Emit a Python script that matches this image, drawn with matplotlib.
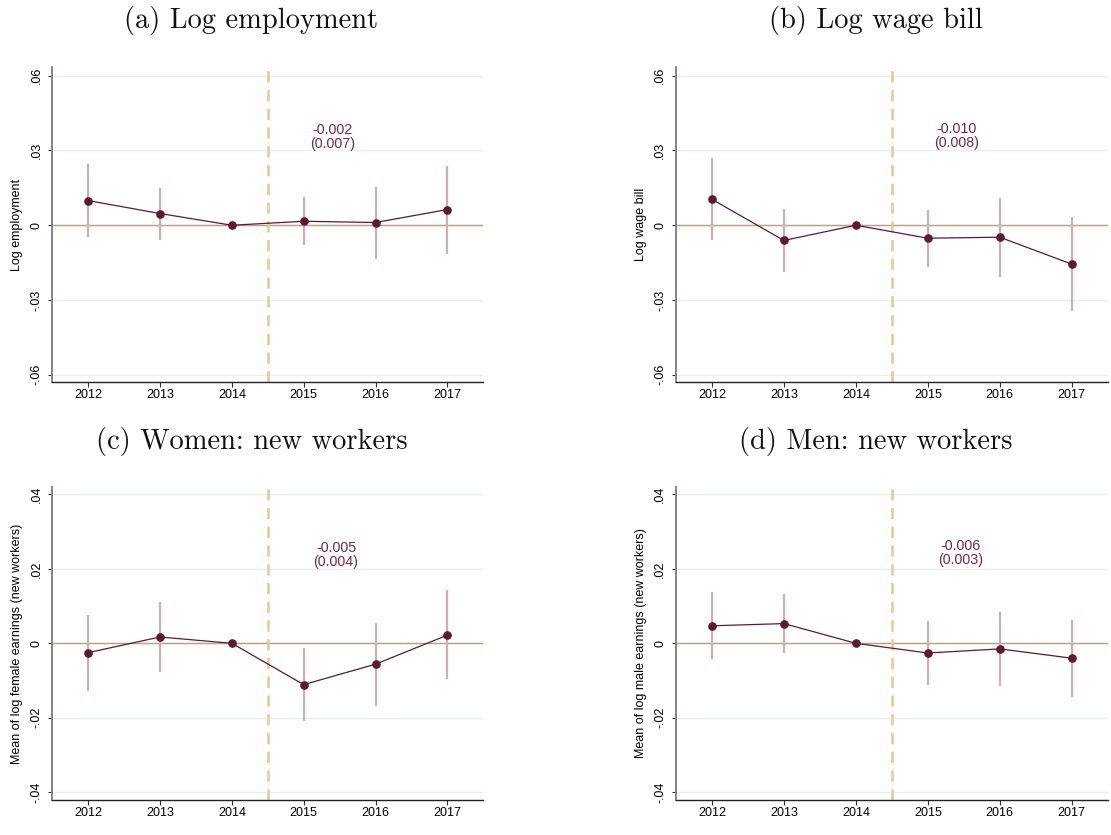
import matplotlib
matplotlib.use("Agg")
import matplotlib.pyplot as plt
import numpy as np

# ---------------- data ----------------
years = [2012, 2013, 2014, 2015, 2016, 2017]

titles = ["(a) Log employment", "(b) Log wage bill",
          "(c) Women: new workers", "(d) Men: new workers"]
ylabels = ["Log employment", "Log wage bill",
           "Mean of log female earnings (new workers)",
           "Mean of log male earnings (new workers)"]

emp_coef = [0.0099, 0.0047, 0.0, 0.0016, 0.0011, 0.0063]
emp_lo = [-0.0047, -0.0059, 0.0, -0.0079, -0.0134, -0.0114]
emp_hi = [0.0245, 0.0150, 0.0, 0.0114, 0.0154, 0.0239]

wb_coef = [0.0104, -0.0061, 0.0, -0.0052, -0.0048, -0.0156]
wb_lo = [-0.0061, -0.0188, 0.0, -0.0167, -0.0206, -0.0345]
wb_hi = [0.0269, 0.0064, 0.0, 0.0061, 0.0108, 0.0032]

fem_coef = [-0.0025, 0.0017, 0.0, -0.0111, -0.0056, 0.0022]
fem_lo = [-0.0127, -0.0076, 0.0, -0.0208, -0.0168, -0.0096]
fem_hi = [0.0076, 0.0110, 0.0, -0.0013, 0.0054, 0.0142]

male_coef = [0.0047, 0.0053, 0.0, -0.0026, -0.0015, -0.0040]
male_lo = [-0.0042, -0.0027, 0.0, -0.0113, -0.0116, -0.0144]
male_hi = [0.0137, 0.0132, 0.0, 0.0060, 0.0085, 0.0063]

annot_texts = ["-0.002\n(0.007)", "-0.010\n(0.008)",
               "-0.005\n(0.004)", "-0.006\n(0.003)"]

yticks_top = [-0.06, -0.03, 0.0, 0.03, 0.06]
yticklabels_top = ["-.06", "-.03", "0", ".03", ".06"]
yticks_bot = [-0.04, -0.02, 0.0, 0.02, 0.04]
yticklabels_bot = ["-.04", "-.02", "0", ".02", ".04"]

panels = [
    (emp_coef, emp_lo, emp_hi),
    (wb_coef, wb_lo, wb_hi),
    (fem_coef, fem_lo, fem_hi),
    (male_coef, male_lo, male_hi),
]

# ---------------- style ----------------
W, H = 1111, 835
fig = plt.figure(figsize=(W / 100, H / 100), dpi=100)
fig.patch.set_facecolor("white")

sans = ["Liberation Sans", "DejaVu Sans"]
serif = ["cmr10", "DejaVu Serif"]

line_col = "#5c1a33"
ci_col = "#c9b0b7"
zero_col = "#d59a5c"
vline_col = "#f3c48c"
text_col = "#6b2c4a"
grid_col = "#e7efef"

# axes rectangles in pixels: (left, top, right, bottom)
rects = [
    (52.3, 67, 483.3, 382),
    (676, 67, 1107.7, 382),
    (52.3, 487, 483.3, 800),
    (676, 487, 1107.7, 800),
]
ylims = [(-0.0629, 0.0635), (-0.0629, 0.0635), (-0.0421, 0.0420), (-0.0421, 0.0420)]
annot_pos = [(2015.4, 0.0355), (2015.4, 0.0358), (2015.45, 0.0238), (2015.45, 0.0243)]
title_pos = [(251, 28), (876, 28), (252, 449), (876, 449)]

for i, (coef, lo, hi) in enumerate(panels):
    l, t, r, b = rects[i]
    ax = fig.add_axes([l / W, 1 - b / H, (r - l) / W, (b - t) / H])
    ax.set_xlim(2011.5, 2017.5)
    ax.set_ylim(*ylims[i])

    if i < 2:
        ticks, tlabels = yticks_top, yticklabels_top
    else:
        ticks, tlabels = yticks_bot, yticklabels_bot

    # gridlines
    for yv in ticks:
        ax.axhline(yv, color=grid_col, lw=1.0, zorder=0)
    # zero line
    ax.axhline(0, color=zero_col, lw=1.0, zorder=1)
    # vertical dashed line
    ax.axvline(2014.5, color=vline_col, lw=1.8, ls=(0, (4.5, 3)), zorder=1)

    # CI bars
    ax.vlines(years, lo, hi, color=ci_col, lw=1.6, zorder=2)
    # coefficient line
    ax.plot(years, coef, color=line_col, lw=0.9, marker="o", ms=5.2,
            mfc=line_col, mec=line_col, zorder=3)

    ax.text(annot_pos[i][0], annot_pos[i][1], annot_texts[i],
            ha="center", va="center", fontsize=10.3, color=text_col,
            family=sans, linespacing=1.0, zorder=4)

    ax.set_yticks(ticks)
    ax.set_yticklabels(tlabels, rotation=90, va="center", family=sans, fontsize=9)
    ax.set_xticks(years)
    ax.set_xticklabels([str(y) for y in years], family=sans, fontsize=9)

    ax.tick_params(axis="x", direction="out", length=3.5, width=0.8, pad=1.5,
                   color="#333333")
    ax.tick_params(axis="y", direction="out", length=3.0, width=0.8, pad=4,
                   color="#333333")

    ax.spines["top"].set_visible(False)
    ax.spines["right"].set_visible(False)
    ax.spines["left"].set_color("#7a7a7a")
    ax.spines["left"].set_linewidth(1.3)
    ax.spines["bottom"].set_color("#222222")
    ax.spines["bottom"].set_linewidth(1.0)

    ax.set_ylabel(ylabels[i], family=sans, fontsize=9)
    ax.yaxis.set_label_coords(-29 / (r - l), 0.5)

    fig.text(title_pos[i][0] / W, 1 - title_pos[i][1] / H, titles[i],
             ha="center", va="baseline", fontsize=20.5, family=serif,
             color="#111111")

fig.savefig("out.png", dpi=100, facecolor="white")
